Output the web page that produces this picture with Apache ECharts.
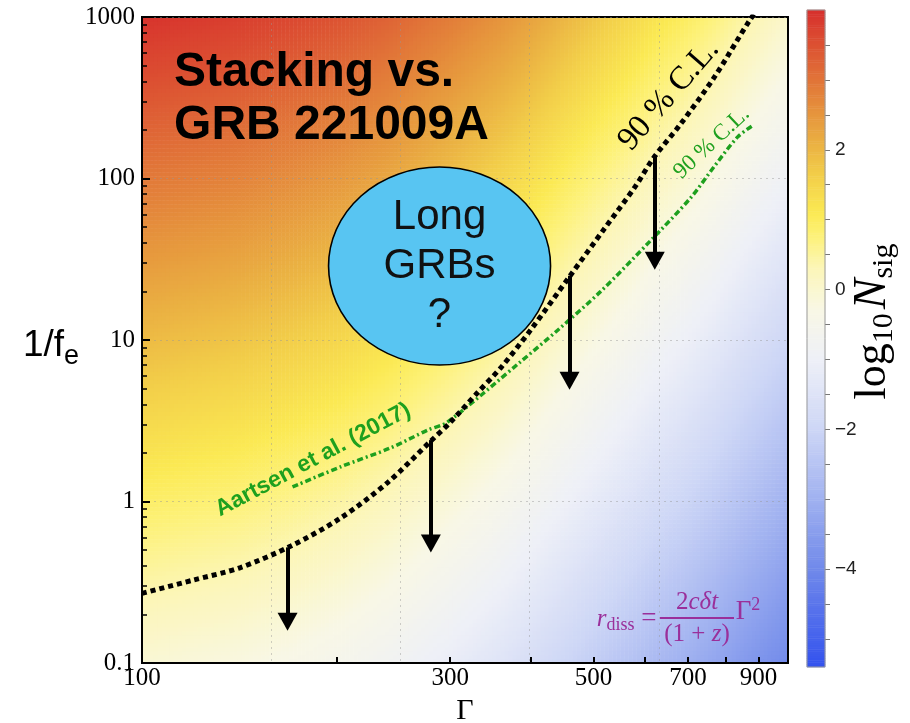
<!DOCTYPE html>
<html>
<head>
<meta charset="utf-8">
<title>Stacking vs. GRB 221009A</title>
<script src="https://cdn.jsdelivr.net/npm/echarts@6.0.0/dist/echarts.min.js"></script>
<style>
  html, body { margin: 0; padding: 0; background: #ffffff; }
  #chart { width: 910px; height: 723px; }
</style>
</head>
<body>
<div id="chart"></div>
<script>
// ---------------------------------------------------------------- data
// 90 % C.L. upper limit on 1/f_e from stacking vs. GRB 221009A
const stackGamma = [100, 120, 142, 170, 203, 240, 280, 300, 330, 360, 400, 460, 520, 580, 620, 680, 770, 871, 1000];
const stackInvFe = [0.27, 0.326, 0.39, 0.53, 0.79, 1.31, 2.37, 3.09, 4.68, 6.8, 11.6, 25, 49, 89, 135, 214, 427, 944, 2100];

// Aartsen et al. (2017) 90 % C.L.
const aartsenGamma = [171, 203, 242, 277, 297, 385, 440, 513, 614, 707, 768, 836, 885];
const aartsenInvFe = [1.23, 1.64, 2.14, 2.77, 3.1, 7.3, 11.5, 20, 41.6, 76, 118, 181, 215];

// upper-limit arrows (start on the limit curve, end at the arrow head)
const limitGamma = [168, 280, 459, 622];
const limitFrom = [0.52, 2.4, 25, 138];
const limitTo = [0.18, 0.55, 5.6, 31];

// Poisson 90 % C.L. signal count for zero observed events
const N90 = 2.3;

// axis ticks and labels
const gammaLabels = [100, 300, 500, 700, 900];
const gammaTicks = [200, 300, 400, 500, 600, 700, 800, 900];
const invFeLabels = [0.1, 1, 10, 100, 1000];
const invFeMinor = [0.2, 0.3, 0.4, 0.5, 0.6, 0.7, 0.8, 0.9,
                    2, 3, 4, 5, 6, 7, 8, 9,
                    20, 30, 40, 50, 60, 70, 80, 90,
                    200, 300, 400, 500, 600, 700, 800, 900];
const cbarLabels = [-4, -2, 0, 2];
const cbarTicks = [-5, -4.5, -4, -3.5, -3, -2.5, -2, -1.5, -1, -0.5, 0, 0.5, 1, 1.5, 2, 2.5, 3, 3.5];
const cbarMin = -5.4, cbarMax = 4.0;

// ---------------------------------------------------------------- colour ramp
const rampStops = [
  [-5.4, '#3352ee'], [-4.0, '#7089ea'], [-3.0, '#a0b1f0'], [-2.0, '#cdd6f6'],
  [-1.0, '#eef0f7'], [-0.3, '#f8f7e6'], [0.3, '#fcf6b8'], [0.8, '#fdf175'],
  [1.1, '#fbe953'], [1.6, '#f3d04a'], [2.1, '#eab042'], [2.6, '#e58f3c'],
  [3.1, '#e06d37'], [3.6, '#db4a31'], [4.0, '#d7302d']
];
function hexRgb(h) { return [1, 3, 5].map(k => parseInt(h.substr(k, 2), 16)); }
function rampAt(v) {
  for (let k = 0; k < rampStops.length - 1; k++) {
    const a = rampStops[k], b = rampStops[k + 1];
    if (v <= b[0] || k === rampStops.length - 2) {
      const t = Math.max(0, Math.min(1, (v - a[0]) / (b[0] - a[0])));
      const ca = hexRgb(a[1]), cb = hexRgb(b[1]);
      return 'rgb(' + ca.map((c, i) => Math.round(c + (cb[i] - c) * t)).join(',') + ')';
    }
  }
}
const rampColors = [];
for (let k = 0; k <= 94; k++) rampColors.push(rampAt(cbarMin + k * (cbarMax - cbarMin) / 94));

// ---------------------------------------------------------------- signal field
// log10 N_sig scales linearly with log10(1/f_e); the stacking limit is the N_sig = N90 contour
const lgS = stackGamma.map(Math.log10), lyS = stackInvFe.map(Math.log10);
function limitLogAt(lg) {
  for (let k = 0; k < lgS.length - 1; k++) {
    if (lg <= lgS[k + 1] || k === lgS.length - 2) {
      const t = (lg - lgS[k]) / (lgS[k + 1] - lgS[k]);
      return lyS[k] + t * (lyS[k + 1] - lyS[k]);
    }
  }
}
const NX = 162, NY = 162;
const fieldCols = [], fieldRows = [], fieldCells = [];
for (let i = 0; i < NX; i++) fieldCols.push(i);
for (let j = 0; j < NY; j++) fieldRows.push(j);
for (let i = 0; i < NX; i++) {
  const lg = 2 + (i + 0.5) / NX;
  const base = Math.log10(N90) - limitLogAt(lg);
  for (let j = 0; j < NY; j++) {
    const ly = -1 + (j + 0.5) * 4 / NY;
    const v = Math.max(cbarMin, Math.min(cbarMax, ly + base));
    fieldCells.push([i, j, v]);
  }
}
const NB = 300, barRows = [], barCells = [];
for (let k = 0; k < NB; k++) {
  barRows.push(k);
  barCells.push([0, k, cbarMin + (k + 0.5) * (cbarMax - cbarMin) / NB]);
}

// ---------------------------------------------------------------- chart
const SERIF = '"Liberation Serif", "Times New Roman", serif';
const SANS = '"Liberation Sans", Arial, sans-serif';
const PURPLE = '#9a2f9a';
const GREEN = '#1ea01e';
const log10 = Math.log10;

const plotGrid = { left: 142, top: 17, width: 646, height: 646, containLabel: false, outerBoundsMode: 'none' };

const chart = echarts.init(document.getElementById('chart'), null, { renderer: 'canvas', width: 910, height: 723 });

const option = {
  animation: false,
  backgroundColor: '#ffffff',
  grid: [
    Object.assign({ show: true, borderColor: '#000', borderWidth: 2, backgroundColor: 'transparent', z: 3 }, plotGrid),
    Object.assign({ show: false }, plotGrid),
    { left: 807, top: 10, width: 18, height: 657, containLabel: false, outerBoundsMode: 'none',
      show: true, borderColor: '#9a9a9a', borderWidth: 1, backgroundColor: 'transparent', z: 3 }
  ],
  visualMap: {
    type: 'continuous', show: false, min: cbarMin, max: cbarMax, dimension: 2,
    seriesIndex: [0, 1], inRange: { color: rampColors }
  },
  xAxis: [
    // data axis
    { type: 'log', gridIndex: 0, min: 100, max: 1000, show: false },
    // ticks and labels in log10(Γ)
    {
      type: 'value', gridIndex: 0, min: 2, max: 3, position: 'bottom', z: 4,
      axisLine: { show: true, onZero: false, lineStyle: { color: '#000', width: 2 } },
      axisTick: { show: true, inside: true, length: 6, lineStyle: { color: '#000', width: 2 },
                  customValues: gammaTicks.map(log10) },
      axisLabel: { show: true, customValues: gammaLabels.map(log10), margin: 3,
                   formatter: v => String(Math.round(Math.pow(10, v))),
                   fontFamily: SERIF, fontSize: 25, color: '#000' },
      splitLine: { show: false },
      name: 'Γ', nameLocation: 'middle', nameGap: 20,
      nameTextStyle: { fontFamily: SERIF, fontSize: 30, color: '#000' }
    },
    // dotted grid every 0.2 in log10(Γ)
    {
      type: 'value', gridIndex: 0, min: 2, max: 3, interval: 0.2, position: 'bottom', z: 1,
      axisLine: { show: false, onZero: false }, axisTick: { show: false }, axisLabel: { show: false },
      splitLine: { show: true, lineStyle: { color: 'rgba(150,150,150,0.45)', width: 1, type: [2, 4] } }
    },
    { type: 'category', gridIndex: 1, data: fieldCols, show: false },
    { type: 'category', gridIndex: 2, data: [0], show: false }
  ],
  yAxis: [
    { type: 'log', gridIndex: 0, min: 0.1, max: 1000, show: false },
    {
      type: 'value', gridIndex: 0, min: -1, max: 3, interval: 1, position: 'left', z: 4,
      axisLine: { show: true, onZero: false, lineStyle: { color: '#000', width: 2 } },
      axisTick: { show: true, inside: true, length: 8, lineStyle: { color: '#000', width: 2 } },
      axisLabel: { show: true, margin: 7,
                   formatter: v => { const x = Math.pow(10, v); return x < 1 ? x.toFixed(1) : String(Math.round(x)); },
                   fontFamily: SERIF, fontSize: 25, color: '#000' },
      splitLine: { show: true, lineStyle: { color: 'rgba(150,150,150,0.45)', width: 1, type: [2, 4] } },
      name: '{a|1/f}{b|e}', nameLocation: 'middle', nameRotate: 0, nameGap: 60,
      nameTextStyle: {
        padding: [12, 0, 0, 0],
        rich: {
          a: { fontFamily: SANS, fontSize: 37, color: '#000' },
          b: { fontFamily: SANS, fontSize: 27, color: '#000', padding: [22, 0, 0, 0] }
        }
      }
    },
    {
      type: 'value', gridIndex: 0, min: -1, max: 3, position: 'left', z: 4,
      axisLine: { show: false, onZero: false }, axisLabel: { show: false }, splitLine: { show: false },
      axisTick: { show: true, inside: true, length: 5, lineStyle: { color: '#000', width: 1.5 },
                  customValues: invFeMinor.map(log10) }
    },
    { type: 'category', gridIndex: 1, data: fieldRows, show: false },
    { type: 'category', gridIndex: 2, data: barRows, show: false },
    {
      type: 'value', gridIndex: 2, min: cbarMin, max: cbarMax, position: 'right',
      axisLine: { show: false, onZero: false },
      axisTick: { show: true, length: 5, lineStyle: { color: '#777', width: 1 }, customValues: cbarTicks },
      axisLabel: { show: true, customValues: cbarLabels, margin: 10,
                   formatter: v => (v < 0 ? '\u2212' + Math.abs(v) : String(v)),
                   fontFamily: SANS, fontSize: 19, color: '#222' },
      splitLine: { show: false },
      name: '{l|log}{s|10}{g| }{n|N}{t|sig}', nameLocation: 'middle', nameRotate: 90, nameGap: 22,
      nameMoveOverlap: false,
      nameTextStyle: {
        padding: [0, 0, 0, 34],
        rich: {
          l: { fontFamily: SERIF, fontSize: 44, color: '#000' },
          s: { fontFamily: SERIF, fontSize: 30, color: '#000', padding: [22, 0, 0, 0] },
          g: { fontFamily: SERIF, fontSize: 16 },
          n: { fontFamily: SERIF, fontSize: 46, fontStyle: 'italic', color: '#000' },
          t: { fontFamily: SERIF, fontSize: 30, color: '#000', padding: [22, 0, 0, 0] }
        }
      }
    }
  ],
  series: [
    {
      type: 'heatmap', xAxisIndex: 3, yAxisIndex: 3, data: fieldCells,
      progressive: 0, silent: true, z: -1, itemStyle: { borderWidth: 0 }, emphasis: { disabled: true }
    },
    {
      type: 'heatmap', xAxisIndex: 4, yAxisIndex: 4, data: barCells,
      progressive: 0, silent: true, z: -1, itemStyle: { borderWidth: 0 }, emphasis: { disabled: true }
    },
    {
      name: 'Stacking 90% C.L.', type: 'line', xAxisIndex: 0, yAxisIndex: 0, z: 6,
      data: stackGamma.map((g, i) => [g, stackInvFe[i]]),
      showSymbol: false, smooth: 0.3, silent: true,
      lineStyle: { color: '#000', width: 5, type: [5, 4], cap: 'butt' },
      markLine: {
        silent: true, z: 7, symbol: ['none', 'triangle'], symbolSize: [20, 18],
        label: { show: false },
        lineStyle: { color: '#000', width: 4, type: 'solid' },
        data: limitGamma.map((g, i) => [{ coord: [g, limitFrom[i]] }, { coord: [g, limitTo[i]] }])
      },
      markPoint: {
        silent: true, z: 8,
        data: [
          {
            coord: [288.8, 28.7], symbol: 'circle', symbolSize: [222, 198],
            itemStyle: { color: '#58c5f2', borderColor: '#000', borderWidth: 1.5 },
            label: { show: true, position: 'inside', formatter: 'Long\nGRBs\n?',
                     fontFamily: SANS, fontSize: 42, lineHeight: 49, color: '#111' }
          },
          {
            coord: [112.1, 661], symbol: 'circle', symbolSize: 0,
            label: { show: true, position: [0, 0], align: 'left', verticalAlign: 'top',
                     formatter: 'Stacking vs.\nGRB 221009A',
                     fontFamily: SANS, fontWeight: 'bold', fontSize: 48, lineHeight: 53, color: '#000' }
          },
          {
            coord: [654, 329], symbol: 'circle', symbolSize: 0,
            label: { show: true, position: [0, 0], align: 'center', verticalAlign: 'middle', rotate: 49,
                     formatter: '90 % C.L.', fontFamily: SERIF, fontSize: 33, color: '#000' }
          },
          {
            coord: [762, 166], symbol: 'circle', symbolSize: 0,
            label: { show: true, position: [0, 0], align: 'center', verticalAlign: 'middle', rotate: 43,
                     formatter: '90 % C.L.', fontFamily: SERIF, fontSize: 23, color: GREEN }
          },
          {
            coord: [184, 1.81], symbol: 'circle', symbolSize: 0,
            label: { show: true, position: [0, 0], align: 'center', verticalAlign: 'middle', rotate: 28,
                     formatter: 'Aartsen et al. (2017)', fontFamily: SANS, fontWeight: 'bold',
                     fontSize: 23, color: GREEN }
          },
          {
            coord: [626, 0.187], symbol: 'circle', symbolSize: 0,
            label: { show: true, position: [0, 0], align: 'right', verticalAlign: 'middle',
                     formatter: '{r|r}{s|diss}{e| =}',
                     rich: {
                       r: { fontFamily: SERIF, fontStyle: 'italic', fontSize: 25, color: PURPLE },
                       s: { fontFamily: SERIF, fontSize: 18, color: PURPLE, padding: [12, 0, 0, 0] },
                       e: { fontFamily: SERIF, fontSize: 27, color: PURPLE }
                     } }
          },
          {
            coord: [723, 0.187], symbol: 'circle', symbolSize: 0,
            label: { show: true, position: [0, 0], align: 'center', verticalAlign: 'middle',
                     formatter: '{n|2}{ni|cδt}\n{bar| }\n{d|(1 + }{di|z}{d|)}',
                     rich: {
                       n: { fontFamily: SERIF, fontSize: 25, color: PURPLE, lineHeight: 25 },
                       ni: { fontFamily: SERIF, fontStyle: 'italic', fontSize: 25, color: PURPLE, lineHeight: 25 },
                       bar: { width: 74, height: 2, lineHeight: 6, fontSize: 2, backgroundColor: PURPLE },
                       d: { fontFamily: SERIF, fontSize: 25, color: PURPLE, lineHeight: 27 },
                       di: { fontFamily: SERIF, fontStyle: 'italic', fontSize: 25, color: PURPLE, lineHeight: 27 }
                     } }
          },
          {
            coord: [830, 0.207], symbol: 'circle', symbolSize: 0,
            label: { show: true, position: [0, 0], align: 'left', verticalAlign: 'middle',
                     formatter: '{g|Γ}{p|2}',
                     rich: {
                       g: { fontFamily: SERIF, fontSize: 27, color: PURPLE },
                       p: { fontFamily: SERIF, fontSize: 18, color: PURPLE, padding: [0, 0, 14, 0] }
                     } }
          }
        ]
      }
    },
    {
      name: 'Aartsen et al. (2017)', type: 'line', xAxisIndex: 0, yAxisIndex: 0, z: 5,
      data: aartsenGamma.map((g, i) => [g, aartsenInvFe[i]]),
      showSymbol: false, smooth: 0.3, silent: true,
      lineStyle: { color: GREEN, width: 3.5, type: [6, 3, 2, 3], cap: 'butt' }
    }
  ]
};

chart.setOption(option);
</script>
</body>
</html>
